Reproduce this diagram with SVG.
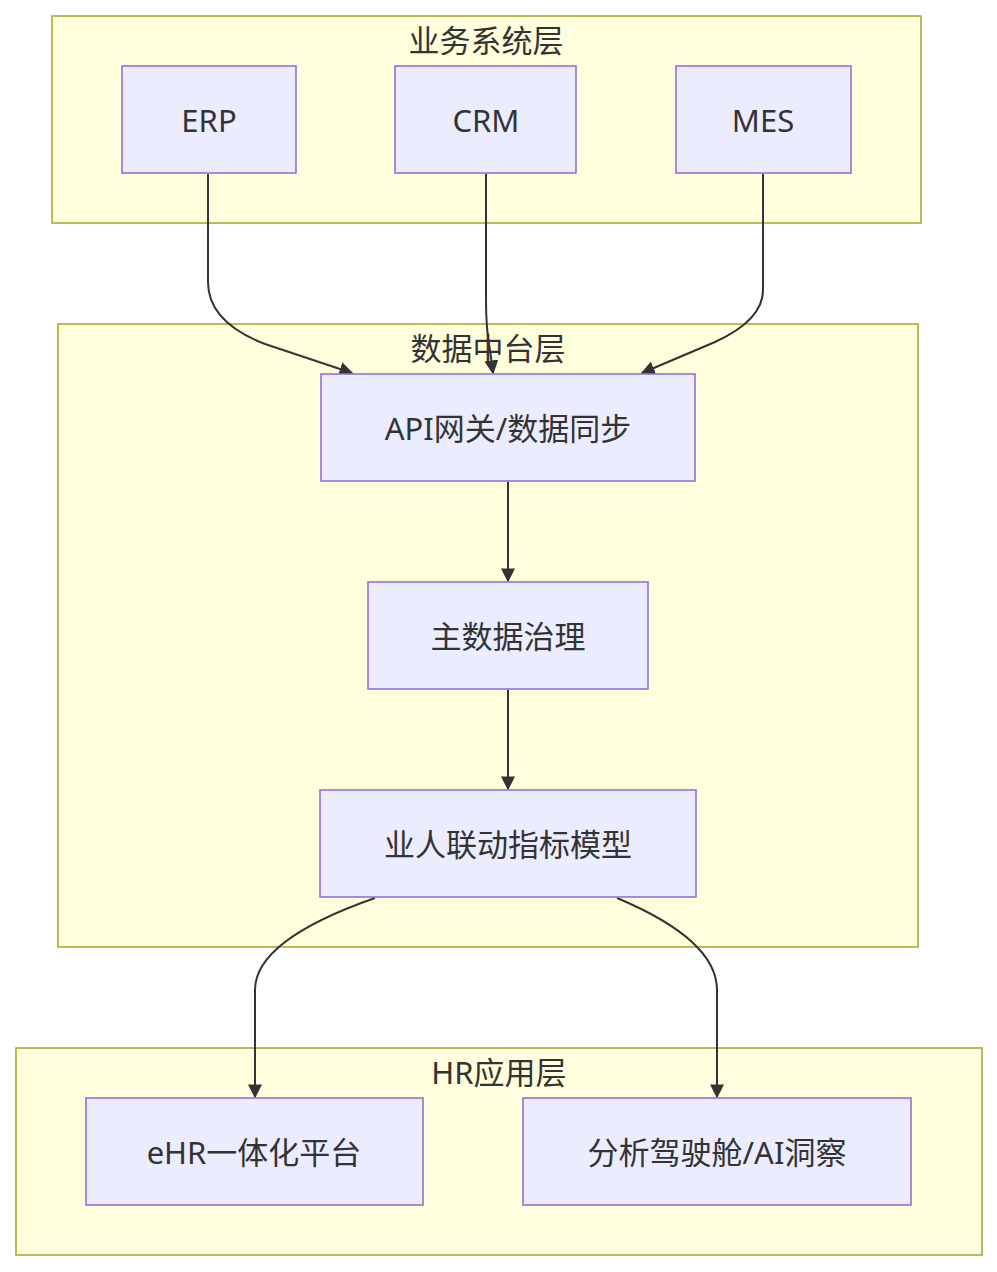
<svg xmlns="http://www.w3.org/2000/svg" width="997" height="1272" viewBox="0 0 997 1272">
<style>
.c{fill:#ffffde;stroke:#aaaa33;stroke-width:1.6}
.n{fill:#ececff;stroke:#9370db;stroke-width:1.6}
text{font-family:"Noto Sans","Noto Sans CJK SC",sans-serif;font-size:31px;fill:#333;text-anchor:middle;dominant-baseline:central}
.e{fill:none;stroke:#333;stroke-width:2;marker-end:url(#a)}
</style>
<defs><marker id="a" viewBox="0 0 10 10" refX="9" refY="5" markerWidth="14" markerHeight="14" orient="auto" markerUnits="userSpaceOnUse"><path d="M0,0L10,5L0,10z" fill="#333"/></marker></defs>
<rect width="997" height="1272" fill="#fff"/>
<g id="cluster1"><rect class="c" x="52" y="16" width="869" height="207"/><text x="486" y="40">业务系统层</text></g>
<g id="cluster2"><rect class="c" x="58" y="324" width="860" height="623"/><text x="488" y="348">数据中台层</text></g>
<g id="cluster3"><rect class="c" x="16" y="1048" width="966" height="207"/><text x="499" y="1072">HR应用层</text></g>
<g id="edges">
<path class="e" d="M208,174 L208,282 Q208,322 265,344 L352,373"/>
<path class="e" d="M486,174 L486,300 Q486,330 490,350 L493,373"/>
<path class="e" d="M763,174 L763,290 Q763,320 715,342 L642,373"/>
<path class="e" d="M508,482 V581"/>
<path class="e" d="M508,690 V789"/>
<path class="e" d="M375,898 Q255,940 255,990 V1097"/>
<path class="e" d="M617,898 Q717,940 717,990 V1097"/>
</g>
<g id="erp"><rect class="n" x="122" y="66" width="174" height="107"/><text x="209" y="120">ERP</text></g>
<g id="crm"><rect class="n" x="395" y="66" width="181" height="107"/><text x="486" y="120">CRM</text></g>
<g id="mes"><rect class="n" x="676" y="66" width="175" height="107"/><text x="763" y="120">MES</text></g>
<g id="api"><rect class="n" x="321" y="374" width="374" height="107"/><text x="508" y="428">API网关/数据同步</text></g>
<g id="mdm"><rect class="n" x="368" y="582" width="280" height="107"/><text x="508" y="636">主数据治理</text></g>
<g id="model"><rect class="n" x="320" y="790" width="376" height="107"/><text x="508" y="844">业人联动指标模型</text></g>
<g id="ehr"><rect class="n" x="86" y="1098" width="337" height="107"/><text x="254" y="1152">eHR一体化平台</text></g>
<g id="bi"><rect class="n" x="523" y="1098" width="388" height="107"/><text x="717" y="1152">分析驾驶舱/AI洞察</text></g>
</svg>
